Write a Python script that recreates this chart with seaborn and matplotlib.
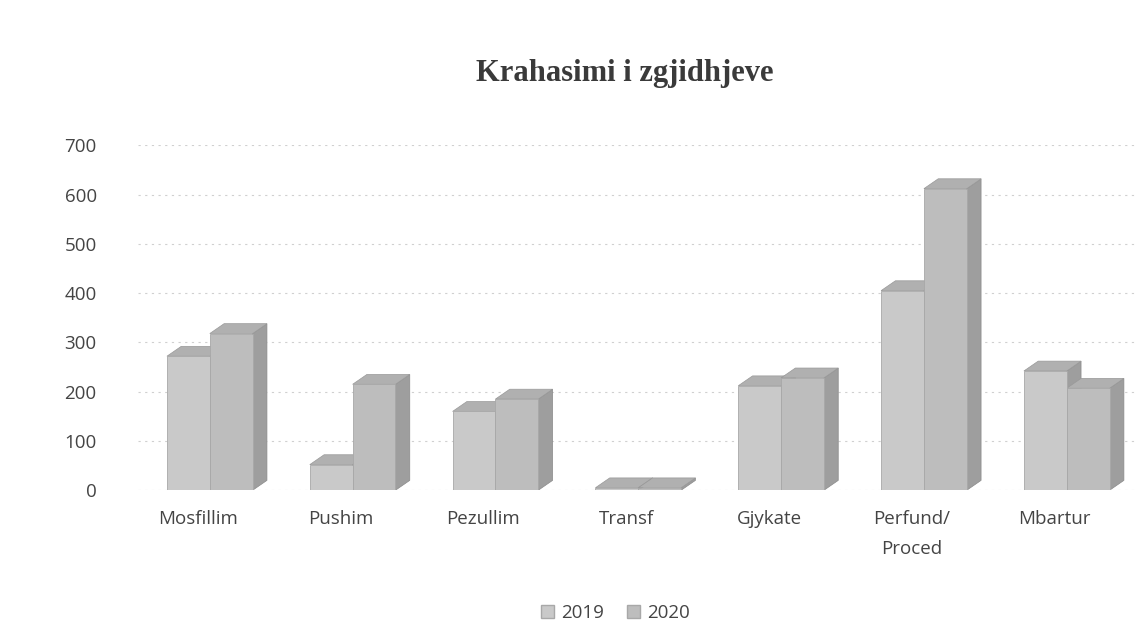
import matplotlib
matplotlib.use("Agg")
import matplotlib.pyplot as plt
import matplotlib.transforms as mtransforms
from matplotlib.patches import Polygon, Patch
import seaborn as sns
import pandas as pd

categories = ["Mosfillim", "Pushim", "Pezullim", "Transf", "Gjykate", "Perfund/\nProced", "Mbartur"]
values_2019 = [272, 52, 160, 5, 212, 405, 242]
values_2020 = [318, 215, 185, 5, 228, 612, 207]
series = ["2019", "2020"]
yticks = [0, 100, 200, 300, 400, 500, 600, 700]

df = pd.DataFrame({
    "cat": categories * 2,
    "val": values_2019 + values_2020,
    "year": [series[0]] * len(categories) + [series[1]] * len(categories),
})

sns.set_theme(style="white")
plt.rcParams["font.family"] = ["Open Sans", "DejaVu Sans"]

fig = plt.figure(figsize=(11.4, 6.4), dpi=100)
ax = fig.add_axes([0.1214, 0.234, 0.877, 0.539])

palette = {"2019": "#c9c9c9", "2020": "#bdbdbd"}
sns.barplot(data=df, x="cat", y="val", hue="year", palette=palette, width=0.6,
            ax=ax, legend=False, edgecolor="#a8a8a8", linewidth=0.6, zorder=3)

# pseudo-3D depth faces derived from each bar patch
dx, dy = 0.1, 20
for p in list(ax.patches):
    x0, y0 = p.get_x(), p.get_y()
    w, h = p.get_width(), p.get_height()
    side = Polygon([[x0 + w, y0], [x0 + w + dx, y0 + dy], [x0 + w + dx, y0 + h + dy], [x0 + w, y0 + h]],
                   closed=True, facecolor="#9e9e9e", edgecolor="#8a8a8a", lw=0.5, zorder=2.5)
    top = Polygon([[x0, y0 + h], [x0 + dx, y0 + h + dy], [x0 + w + dx, y0 + h + dy], [x0 + w, y0 + h]],
                  closed=True, facecolor="#b0b0b0", edgecolor="#999999", lw=0.5, zorder=2.5)
    ax.add_patch(side)
    ax.add_patch(top)

ax.set_ylim(0, 700)
ax.set_xlim(-0.5, len(categories) - 0.5)
ax.set_yticks(yticks)
ax.set_yticklabels([str(t) for t in yticks])
ax.yaxis.grid(True, color="#d0d0d0", linestyle=(0, (2, 4)), linewidth=0.8)
ax.set_axisbelow(True)
for s in ax.spines.values():
    s.set_visible(False)
ax.set_xlabel("")
ax.set_ylabel("")
ax.tick_params(axis="y", labelsize=13.5, colors="#444444", length=0, pad=30)
ax.tick_params(axis="x", labelsize=13.5, colors="#444444", length=0, pad=14)
shift = mtransforms.ScaledTranslation(-12 / 100, 0, fig.dpi_scale_trans)
for lbl in ax.get_xticklabels():
    lbl.set_linespacing(1.9)
    lbl.set_transform(lbl.get_transform() + shift)

fig.text(0.548, 0.885, "Krahasimi i zgjidhjeve", ha="center", va="center",
         fontsize=22, fontweight="bold", color="#3a3a3a", family=["Liberation Serif", "DejaVu Serif"])

handles = [Patch(facecolor=palette[s], edgecolor="#a8a8a8") for s in series]
fig.legend(handles, series, loc="center", bbox_to_anchor=(0.54, 0.042), ncol=2, frameon=False,
           fontsize=13.5, handlelength=0.7, handleheight=0.7, columnspacing=1.2, handletextpad=0.4,
           labelcolor="#444444")

fig.savefig("out.png", dpi=100)
